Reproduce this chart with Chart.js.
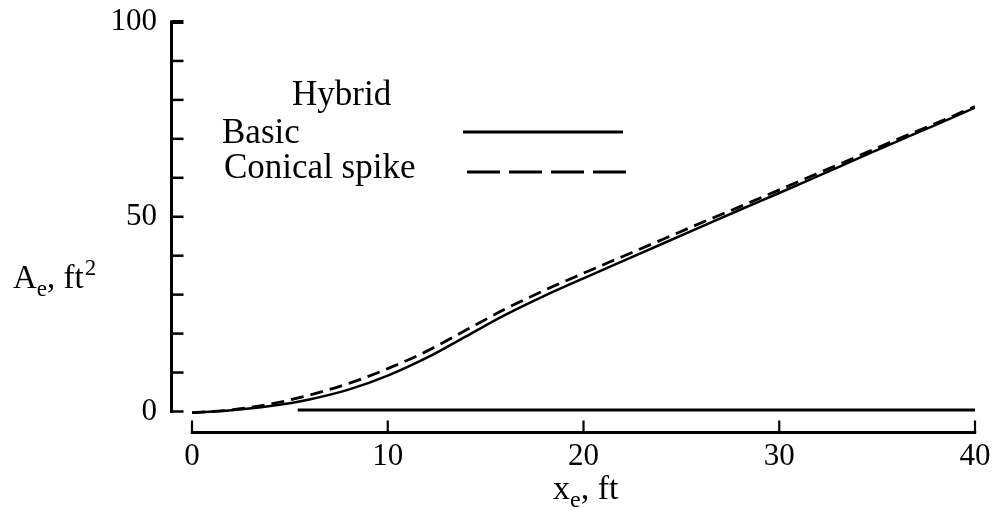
<!DOCTYPE html>
<html>
<head>
<meta charset="utf-8">
<script src="https://cdn.jsdelivr.net/npm/chart.js@4.4.1/dist/chart.umd.min.js"></script>
<style>
html,body{margin:0;padding:0;background:#fff;}
canvas{display:block;}
</style>
</head>
<body>
<canvas id="c" width="997" height="516"></canvas>
<script>
// ---- data ----
const xValues       = [0, 2, 4, 6, 8, 10, 12, 14, 16, 18, 20, 22, 24, 26, 28, 30, 32, 34, 36, 38, 40];
const basicValues   = [-0.3, 0.3, 1.4, 3.1, 5.6, 9.2, 13.8, 19.3, 24.8, 29.7, 34.2, 38.6, 43.0, 47.4, 51.8, 56.1, 60.5, 64.9, 69.3, 73.6, 78.0];
const conicalValues = [-0.3, 0.4, 1.9, 4.2, 7.2, 11.0, 15.5, 20.9, 26.3, 31.1, 35.5, 39.8, 44.1, 48.4, 52.6, 56.9, 61.2, 65.5, 69.8, 74.0, 78.3];
const floorX        = [5.4, 40];
const floorY        = [0.35, 0.35];
const xTickValues   = [0, 10, 20, 30, 40];
const yTickValues   = [0, 10, 20, 30, 40, 50, 60, 70, 80, 90, 100];
const yLabeled      = [0, 50, 100];
const legendTitle   = 'Hybrid';
const seriesNames   = ['Basic', 'Conical spike'];
const yTitleMain    = 'A';
const yTitleSub     = 'e';
const yTitleRest    = ', ft';
const yTitleSup     = '2';
const xTitleMain    = 'x';
const xTitleSub     = 'e';
const xTitleRest    = ', ft';

const SERIF = '"Liberation Serif", "Times New Roman", serif';

const toPts = (xs, ys) => xs.map((x, i) => ({x: x, y: ys[i]}));

const decorPlugin = {
  id: 'decor',
  afterDraw(chart) {
    const ctx = chart.ctx;
    const xs = chart.scales.x, ys = chart.scales.y;
    const ca = chart.chartArea;
    ctx.save();
    ctx.strokeStyle = '#000';
    ctx.fillStyle = '#000';
    ctx.lineCap = 'butt';
    // y axis line and inward ticks
    const yx = ca.left + 1.5;
    ctx.lineWidth = 3;
    ctx.beginPath();
    ctx.moveTo(yx, ys.getPixelForValue(100) - 1.5);
    ctx.lineTo(yx, ys.getPixelForValue(0) + 1.5);
    ctx.stroke();
    yTickValues.forEach(v => {
      const py = ys.getPixelForValue(v);
      ctx.lineWidth = (v === 100) ? 4 : 2.5;
      ctx.beginPath();
      ctx.moveTo(yx, py);
      ctx.lineTo(yx + 12, py);
      ctx.stroke();
    });
    // x axis line and inward ticks
    const xy = ca.bottom - 1.5;
    ctx.lineWidth = 3;
    ctx.beginPath();
    ctx.moveTo(xs.getPixelForValue(0) - 1.2, xy);
    ctx.lineTo(xs.getPixelForValue(40) + 1.2, xy);
    ctx.stroke();
    ctx.lineWidth = 2.2;
    xTickValues.forEach(v => {
      const px = xs.getPixelForValue(v);
      ctx.beginPath();
      ctx.moveTo(px, xy);
      ctx.lineTo(px, xy - 12);
      ctx.stroke();
    });

    // y axis title
    ctx.textBaseline = 'alphabetic';
    ctx.textAlign = 'left';
    let tx = 13;
    ctx.font = '33px ' + SERIF;
    ctx.fillText(yTitleMain, tx, 288); tx += ctx.measureText(yTitleMain).width;
    ctx.font = '23px ' + SERIF;
    ctx.fillText(yTitleSub, tx, 296); tx += ctx.measureText(yTitleSub).width;
    ctx.font = '33px ' + SERIF;
    ctx.fillText(yTitleRest, tx, 288); tx += ctx.measureText(yTitleRest).width + 1;
    ctx.font = '23px ' + SERIF;
    ctx.fillText(yTitleSup, tx, 275);

    // x axis title
    tx = 553;
    ctx.font = '34px ' + SERIF;
    ctx.fillText(xTitleMain, tx, 499); tx += ctx.measureText(xTitleMain).width;
    ctx.font = '24px ' + SERIF;
    ctx.fillText(xTitleSub, tx, 507); tx += ctx.measureText(xTitleSub).width;
    ctx.font = '34px ' + SERIF;
    ctx.fillText(xTitleRest, tx, 499);

    // legend
    ctx.font = '35px ' + SERIF;
    ctx.fillText(legendTitle, 292, 105);
    ctx.fillText(seriesNames[0], 222, 143);
    ctx.fillText(seriesNames[1], 224, 178);
    ctx.lineWidth = 3;
    ctx.setLineDash([]);
    ctx.beginPath(); ctx.moveTo(463, 132); ctx.lineTo(623, 132); ctx.stroke();
    ctx.setLineDash([33, 9]);
    ctx.beginPath(); ctx.moveTo(467, 172); ctx.lineTo(627, 172); ctx.stroke();
    ctx.restore();
  }
};

new Chart(document.getElementById('c'), {
  type: 'line',
  data: {
    datasets: [
      { label: seriesNames[0], data: toPts(xValues, basicValues), borderColor: '#000', borderWidth: 2.5,
        pointRadius: 0, cubicInterpolationMode: 'monotone', fill: false },
      { label: seriesNames[1], data: toPts(xValues, conicalValues), borderColor: '#000', borderWidth: 2.8,
        borderDash: [13, 7], pointRadius: 0, cubicInterpolationMode: 'monotone', fill: false },
      { label: 'floor', data: toPts(floorX, floorY), borderColor: '#000', borderWidth: 3,
        pointRadius: 0, fill: false }
    ]
  },
  options: {
    responsive: false,
    animation: false,
    devicePixelRatio: 1,
    layout: { padding: { left: 0, right: 22, top: 22, bottom: 0 } },
    plugins: { legend: { display: false }, tooltip: { enabled: false } },
    scales: {
      x: {
        type: 'linear', min: -1.124, max: 40,
        grid: { display: false, drawTicks: false },
        border: { display: false },
        afterBuildTicks: s => { s.ticks = xTickValues.map(v => ({value: v})); },
        afterFit: s => { s.height = 82; s.paddingLeft = 0; s.paddingRight = 0; },
        ticks: { color: '#000', padding: 4, maxRotation: 0, autoSkip: false,
                 font: { family: SERIF, size: 31 }, callback: v => String(v) }
      },
      y: {
        type: 'linear', min: -5.78, max: 100,
        grid: { display: false, drawTicks: false },
        border: { display: false },
        afterBuildTicks: s => { s.ticks = yTickValues.map(v => ({value: v})); },
        afterFit: s => { s.width = 170; s.paddingTop = 0; s.paddingBottom = 0; },
        ticks: { color: '#000', padding: 13, autoSkip: false,
                 font: { family: SERIF, size: 31 },
                 callback: v => yLabeled.includes(v) ? String(v) : '' }
      }
    }
  },
  plugins: [decorPlugin]
});
</script>
</body>
</html>
